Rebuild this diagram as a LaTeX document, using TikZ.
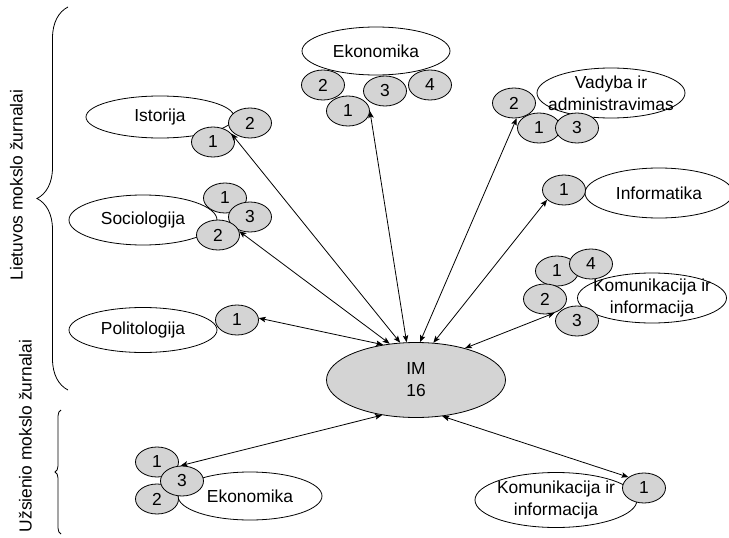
\documentclass[tikz,border=0pt]{standalone}
\usepackage{fontspec}
\setmainfont{Liberation Sans}
\usepackage{tikz}
\usetikzlibrary{arrows.meta,calc,decorations.pathreplacing,positioning,shapes}
\definecolor{cellgray}{rgb}{0.83,0.83,0.83}

\begin{document}
\begin{tikzpicture}[<->,>={Stealth[length=7pt,width=5.5pt,inset=1.5pt]},x=1pt,y=-1pt,thick,
every node/.style={font=\fontsize{17.4}{22}\selectfont}]
\tikzstyle{topic}=[ellipse,draw,minimum width=148pt,minimum height=48pt,inner sep=0pt]
\tikzstyle{count}=[ellipse,draw,fill=cellgray,minimum width=43pt,minimum height=30pt,inner sep=0pt]

\useasboundingbox (0,0) rectangle (729,538);

% braces and group titles
\draw[-,decorate,decoration={brace,amplitude=31pt}] (68,390) -- (68,7);
\draw[-,decorate,decoration={brace,amplitude=6pt}] (61,534) -- (61,410);
\node[rotate=90] (lt) at (16.5,185) {Lietuvos mokslo žurnalai};
\node[rotate=90] (us) at (25.5,436) {Užsienio mokslo žurnalai};

% fields
\node[topic,minimum height=42pt] (ist) at (160,117) {Istorija};
\node[topic,minimum height=50pt] (soc) at (143,220) {Sociologija};
\node[topic,minimum height=45pt] (pol) at (143,330) {Politologija};
\node[topic] (eko) at (376,51) {Ekonomika};
\node[topic,minimum height=50pt,label={[align=center]center:Vadyba ir\\administravimas}] (vad) at (611,93) {};
\node[topic,minimum height=50pt] (inf) at (659,193) {Informatika};
\node[topic,minimum width=149pt,minimum height=50pt,label={[align=center]center:Komunikacija ir\\informacija}] (kom) at (652,298) {};
\node[topic,minimum width=144pt] (uek) at (250,496) {Ekonomika};
\node[topic,minimum width=162pt,minimum height=55pt,label={[align=center]center:Komunikacija ir\\informacija}] (ukom) at (556,500) {};
\node[ellipse,draw,fill=cellgray,minimum width=179pt,minimum height=75pt,align=center] (im) at (416,380) {IM\\16};

% counts
\node[count] (ist2) at (250,123) {2};
\node[count] (ist1) at (213,142) {1};
\node[count] (soc1) at (225,198) {1};
\node[count] (soc3) at (250,217) {3};
\node[count] (soc2) at (218,235) {2};
\node[count] (pol1) at (237,320) {1};
\node[count] (eko2) at (323,85) {2};
\node[count] (eko1) at (348,111) {1};
\node[count] (eko3) at (385,91) {3};
\node[count] (eko4) at (430,85) {4};
\node[count] (vad2) at (514,103) {2};
\node[count] (vad1) at (539,128) {1};
\node[count] (vad3) at (577,128) {3};
\node[count] (inf1) at (564,190) {1};
\node[count] (kom1) at (557,271) {1};
\node[count] (kom4) at (591,264) {4};
\node[count] (kom2) at (545,299) {2};
\node[count] (kom3) at (577,321) {3};
\node[count] (uek1) at (157,462) {1};
\node[count] (uek2) at (157,499) {2};
\node[count] (uek3) at (182,481) {3};
\node[count] (ukom1) at (644,488) {1};

\path (im.133) edge (pol1.5)
(im.126) edge (soc2.10)
(im.113) edge (ist1.25)
(im.104) edge (eko1.0)
(im.84) edge (vad2.-80)
(im.65) edge (inf1.210)
(im.33) edge (kom2.-55)
(im.226) edge (uek3.95)
(im.306) edge (ukom1.145);
\end{tikzpicture}
\end{document}
